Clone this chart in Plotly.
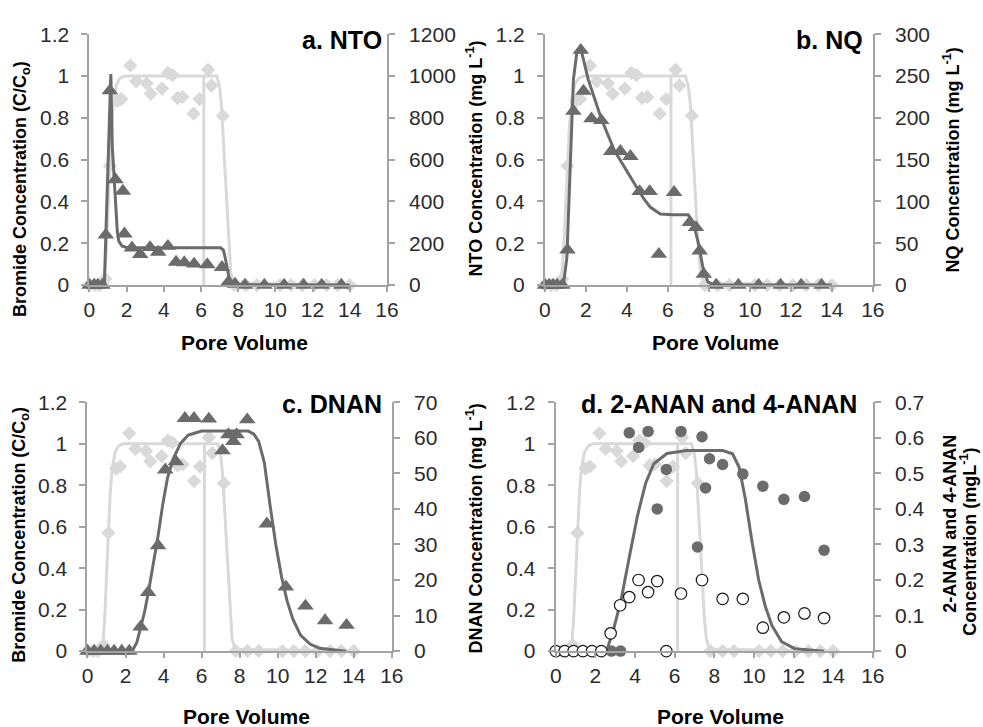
import plotly.graph_objects as go

W, H = 983, 727

# ---------------- data ----------------
# Bromide tracer (same in all panels), left axis C/Co
BR_PV = [0, 0.3, 0.55, 0.85, 1.1, 1.5, 1.72, 2.2, 2.52, 3.08, 3.3, 3.9, 4.22, 4.47, 4.74, 5.0,
         5.6, 5.92, 6.38, 6.56, 7.17, 7.8, 8.42, 9.0, 10.25, 10.85, 11.45, 12.1, 12.75, 13.35, 14.0]
BR = [0, 0, 0, 0.03, 0.57, 0.88, 0.89, 1.05, 0.975, 0.965, 0.915, 0.94, 1.015, 1.005, 0.895, 0.9,
      0.82, 0.89, 1.03, 0.955, 0.81, 0, 0, 0, 0, 0, 0, 0, 0, 0, 0]
BR_FIT_PV = [0, 0.78, 0.9, 1.0, 1.1, 1.2, 1.3, 1.45, 1.65, 1.9, 6.85, 7.0, 7.1, 7.2, 7.3, 7.4,
             7.5, 7.6, 7.75, 14]
BR_FIT = [0, 0, 0.15, 0.38, 0.6, 0.77, 0.88, 0.96, 0.99, 1.0, 1.0, 0.95, 0.86, 0.7, 0.5, 0.32,
          0.16, 0.06, 0.01, 0]
PULSE_PV = [6.15, 6.15]
PULSE = [0, 1.0]

# a. NTO (mg/L)
NTO_PV = [0, 0.25, 0.45, 0.7, 0.88, 1.1, 1.4, 1.8, 1.88, 2.29, 2.73, 3.26, 3.7, 4.22, 4.66, 5.1,
          5.63, 6.34, 7.13, 7.48, 7.83, 8.36, 9.41, 10.47, 11.52, 12.49, 13.55]
NTO = [0, 0, 0, 0, 240, 930, 505, 450, 245, 178, 147, 180, 158, 186, 110, 108,
       101, 98, 85, 15, 5, 0, 0, 0, 0, 0, 0]
NTO_FIT_PV = [0, 0.8, 0.9, 1.0, 1.1, 1.15, 1.23, 1.32, 1.41, 1.5, 1.58, 1.76, 2.0, 2.5, 7.05,
              7.2, 7.3, 7.4, 7.5, 7.6, 7.75, 14]
NTO_FIT = [0, 0, 290, 600, 880, 1010, 660, 530, 380, 255, 210, 186, 180, 178, 178,
           168, 132, 85, 40, 12, 2, 0]

# b. NQ (mg/L)
NQ_PV = [0, 0.2, 0.4, 0.6, 0.85, 1.1, 1.39, 1.75, 1.88, 2.27, 2.75, 3.23, 3.68, 4.17, 4.62, 5.11,
         5.56, 6.3, 7.07, 7.37, 7.55, 7.75, 8.35, 9.44, 10.43, 11.5, 12.5, 13.5]
NQ = [0, 0, 0, 0, 0, 42, 208, 281, 232, 199, 197, 160, 160, 154, 112, 112,
      37, 111, 75, 69, 41, 13, 0, 0, 0, 0, 0, 0]
NQ_FIT_PV = [0, 0.9, 1.07, 1.23, 1.39, 1.55, 1.75, 2.11, 2.75, 3.39, 3.87, 4.35, 4.83, 5.15,
             5.63, 6.27, 6.99, 7.23, 7.47, 7.71, 7.95, 8.2, 14]
NQ_FIT = [0, 0, 33, 149, 246, 277, 283, 246, 199, 161, 141, 122, 103, 93,
          85, 84, 84, 75, 52, 21, 4, 0, 0]

# c. DNAN (mg/L)
DNAN_PV = [0, 0.35, 0.7, 1.05, 1.4, 1.8, 2.2, 2.79, 3.19, 3.71, 4.09, 4.65, 5.12, 5.6, 6.38,
           7.1, 7.41, 7.67, 7.84, 8.4, 9.43, 10.43, 11.46, 12.49, 13.62]
DNAN = [0, 0, 0, 0, 0, 0, 0, 6.8, 16.5, 29.7, 51, 53.3, 65.5, 65.5, 65.3,
        56.4, 60.9, 59, 60.9, 65.1, 35.8, 18.1, 12.7, 8.6, 7.3]
DNAN_FIT_PV = [0, 2.35, 2.6, 2.8, 3.0, 3.2, 3.45, 3.7, 3.95, 4.2, 4.5, 4.9, 5.3, 6.0, 8.45,
               8.75, 9.0, 9.3, 9.6, 9.9, 10.2, 10.5, 10.8, 11.2, 11.7, 12.2, 13.6]
DNAN_FIT = [0, 0, 2.5, 6.5, 11, 16.5, 24, 32, 41, 48.5, 54, 58.5, 60.8, 61.9, 61.9,
            61.0, 59.0, 53, 41, 30, 21, 14, 9, 4.5, 2, 0.8, 0]

# d. 2-ANAN and 4-ANAN (mg/L)
ANAN_F_PV = [2.81, 3.27, 3.71, 4.18, 4.66, 5.12, 5.58, 6.32, 7.15, 7.38, 7.56, 7.76, 8.42,
             9.44, 10.45, 11.51, 12.55, 13.54]
ANAN_F = [0, 0, 0.614, 0.573, 0.618, 0.4, 0.511, 0.618, 0.293, 0.603, 0.459, 0.541, 0.525,
          0.498, 0.464, 0.427, 0.435, 0.284]
ANAN_O_PV = [0, 0.45, 0.9, 1.37, 1.83, 2.3, 2.77, 3.25, 3.71, 4.18, 4.66, 5.12, 5.58, 6.32,
             7.38, 8.42, 9.44, 10.45, 11.51, 12.55, 13.54]
ANAN_O = [0, 0, 0, 0, 0, 0, 0.05, 0.129, 0.152, 0.2, 0.166, 0.197, 0, 0.162,
          0.2, 0.147, 0.147, 0.066, 0.095, 0.106, 0.093]
ANAN_FIT_PV = [0, 2.56, 2.89, 3.3, 3.71, 4.13, 4.54, 4.95, 5.61, 6.6, 8.42, 8.92, 9.25, 9.57,
               9.9, 10.24, 10.57, 10.9, 11.39, 12.05, 13.54]
ANAN_FIT = [0, 0, 0.055, 0.145, 0.264, 0.382, 0.473, 0.527, 0.556, 0.564, 0.564, 0.555, 0.518,
            0.427, 0.309, 0.2, 0.127, 0.073, 0.027, 0.007, 0]

X_TICKS = [0, 2, 4, 6, 8, 10, 12, 14, 16]

# ---------------- style ----------------
LIGHT = "#d9d9d9"
DARK = "#6b6b6b"
AXIS = "#a3a3a3"
TXT = "#2b2b2b"
FONT = "Liberation Sans, Arial, sans-serif"


def px(x):
    return x / W


def py(y):
    return 1 - y / H


# pixel boxes for the four panels: (left, right, top, bottom)
BOXES = [(85, 388, 23, 282), (549, 883, 23, 282), (83, 393, 403, 660), (560, 883, 403, 660)]
RIGHT = [(1200, 200), (300, 50), (70, 10), (0.7, 0.1)]

fig = go.Figure()
layout = {}

for i, (box, (rmax, rd)) in enumerate(zip(BOXES, RIGHT)):
    n = i + 1
    xname = "x" if n == 1 else f"x{n}"
    yl = 2 * n - 1
    yr = 2 * n
    ylname = "y" if yl == 1 else f"y{yl}"
    yrname = f"y{yr}"
    xkey = "xaxis" if n == 1 else f"xaxis{n}"
    ylkey = "yaxis" if yl == 1 else f"yaxis{yl}"
    yrkey = f"yaxis{yr}"
    l, r, t, b = box
    common = dict(showgrid=False, zeroline=False, showline=True, linecolor=AXIS, linewidth=2,
                  ticks="outside", tickcolor=AXIS, tickwidth=1.5,
                  tickfont=dict(family=FONT, size=21, color=TXT), fixedrange=True)
    layout[xkey] = dict(domain=[px(l), px(r)], anchor=ylname, range=[0, 16],
                        tickmode="array", tickvals=X_TICKS, ticklen=5,
                        ticklabelstandoff=0, **common)
    layout[ylkey] = dict(domain=[py(b), py(t)], anchor=xname, range=[0, 1.2],
                         tick0=0, dtick=0.2, ticklen=6, ticklabelstandoff=8, **common)
    layout[yrkey] = dict(domain=[py(b), py(t)], anchor=xname, overlaying=ylname, side="right",
                         range=[0, rmax], tick0=0, dtick=rd, ticklen=6,
                         ticklabelstandoff=10, **common)

    # bromide on left axis
    fig.add_trace(go.Scatter(x=BR_FIT_PV, y=BR_FIT, mode="lines", xaxis=xname, yaxis=ylname,
                             line=dict(color=LIGHT, width=3), cliponaxis=False,
                             showlegend=False, hoverinfo="skip"))
    fig.add_trace(go.Scatter(x=PULSE_PV, y=PULSE, mode="lines", xaxis=xname, yaxis=ylname,
                             line=dict(color=LIGHT, width=3), cliponaxis=False,
                             showlegend=False, hoverinfo="skip"))
    fig.add_trace(go.Scatter(x=BR_PV, y=BR, mode="markers", xaxis=xname, yaxis=ylname,
                             marker=dict(symbol="diamond", size=11, color=LIGHT),
                             cliponaxis=False, showlegend=False, name="Bromide"))

    if n == 1:
        comp = (NTO_FIT_PV, NTO_FIT, NTO_PV, NTO)
    elif n == 2:
        comp = (NQ_FIT_PV, NQ_FIT, NQ_PV, NQ)
    elif n == 3:
        comp = (DNAN_FIT_PV, DNAN_FIT, DNAN_PV, DNAN)
    else:
        comp = None

    if comp:
        fx, fy, mx, my = comp
        fig.add_trace(go.Scatter(x=fx, y=fy, mode="lines", xaxis=xname, yaxis=yrname,
                                 line=dict(color=DARK, width=3), cliponaxis=False,
                                 showlegend=False, hoverinfo="skip"))
        fig.add_trace(go.Scatter(x=mx, y=my, mode="markers", xaxis=xname, yaxis=yrname,
                                 marker=dict(symbol="triangle-up", size=14.5, color=DARK),
                                 cliponaxis=False, showlegend=False))
    else:
        fig.add_trace(go.Scatter(x=ANAN_FIT_PV, y=ANAN_FIT, mode="lines", xaxis=xname,
                                 yaxis=yrname, line=dict(color=DARK, width=3),
                                 cliponaxis=False, showlegend=False, hoverinfo="skip"))
        fig.add_trace(go.Scatter(x=ANAN_F_PV, y=ANAN_F, mode="markers", xaxis=xname,
                                 yaxis=yrname, name="2-ANAN",
                                 marker=dict(symbol="circle", size=11.5, color=DARK),
                                 cliponaxis=False, showlegend=False))
        fig.add_trace(go.Scatter(x=ANAN_O_PV, y=ANAN_O, mode="markers", xaxis=xname,
                                 yaxis=yrname, name="4-ANAN",
                                 marker=dict(symbol="circle", size=11.5, color="white",
                                             line=dict(color="#1a1a1a", width=1.2)),
                                 cliponaxis=False, showlegend=False))

ann = []


def add_text(text, x, y, size, angle=0, xanchor="center", family=FONT, color="black"):
    ann.append(dict(text=text, x=px(x), y=py(y), xref="paper", yref="paper", showarrow=False,
                    xanchor=xanchor, yanchor="middle", textangle=angle,
                    font=dict(family=family, size=size, color=color)))


# panel labels
add_text("<b>a. NTO</b>", 385, 29, 25, xanchor="right")
add_text("<b>b. NQ</b>", 875, 29, 25, xanchor="right")
add_text("<b>c. DNAN</b>", 385, 405, 25, xanchor="right")
add_text("<b>d. 2-ANAN and 4-ANAN</b>", 726, 405, 25)

# x titles
for cx, cy in [(243, 341), (723, 341), (245, 728), (728, 728)]:
    add_text("<b>Pore Volume</b>", cx, cy, 21)

# y titles
add_text("<b>Bromide Concentration (C/C<sub>o</sub>)</b>", 16, 183, 18, angle=-90)
add_text("<b>NTO Concentration (mg L<sup>-1</sup>)</b>", 477, 151, 18, angle=-90)
add_text("<b>NQ Concentration (mg L<sup>-1</sup>)</b>", 963, 153, 18, angle=-90)
add_text("<b>Bromide Concentration (C/C<sub>o</sub>)</b>", 15, 540, 18, angle=-90)
add_text("<b>DNAN Concentration (mg L<sup>-1</sup>)</b>", 477, 533, 18, angle=-90)
add_text("<b>2-ANAN and 4-ANAN</b>", 962, 528, 18, angle=-90)
add_text("<b>Concentration (mgL<sup>-1</sup>)</b>", 981, 547, 18, angle=-90)

fig.update_layout(width=W, height=H, margin=dict(l=0, r=0, t=0, b=0),
                  paper_bgcolor="white", plot_bgcolor="white",
                  showlegend=False, annotations=ann, **layout)

fig.write_html("out.html")
